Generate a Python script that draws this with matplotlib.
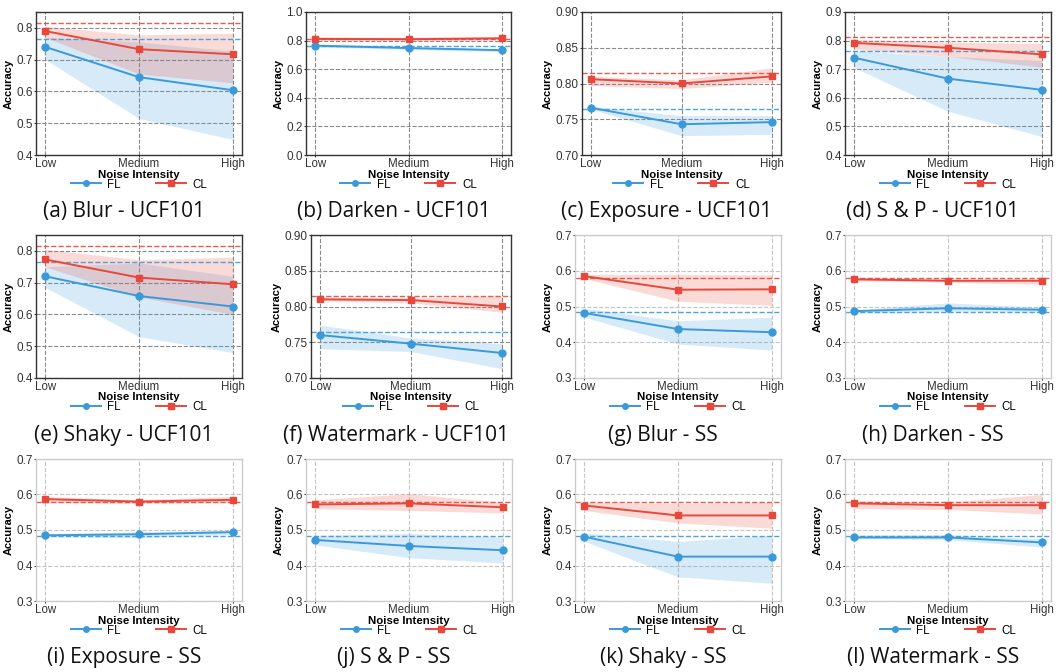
import matplotlib
matplotlib.use("Agg")
import matplotlib.pyplot as plt

levels = ["Low", "Medium", "High"]
x = [0, 1, 2]

captions = ["(a) Blur - UCF101", "(b) Darken - UCF101", "(c) Exposure - UCF101", "(d) S & P - UCF101",
            "(e) Shaky - UCF101", "(f) Watermark - UCF101", "(g) Blur - SS", "(h) Darken - SS",
            "(i) Exposure - SS", "(j) S & P - SS", "(k) Shaky - SS", "(l) Watermark - SS"]

# clean baselines (dashed lines)
base_ucf = {"FL": 0.764, "CL": 0.814}
base_ss = {"FL": 0.484, "CL": 0.580}

# mean accuracy per noise level
fl_mean = [
    [0.740, 0.645, 0.604], [0.765, 0.748, 0.733], [0.766, 0.743, 0.746], [0.740, 0.667, 0.628],
    [0.720, 0.658, 0.625], [0.760, 0.748, 0.735], [0.482, 0.437, 0.428], [0.487, 0.495, 0.491],
    [0.485, 0.488, 0.494], [0.472, 0.455, 0.443], [0.481, 0.425, 0.425], [0.479, 0.479, 0.465],
]
cl_mean = [
    [0.790, 0.733, 0.717], [0.812, 0.810, 0.816], [0.806, 0.800, 0.810], [0.792, 0.775, 0.752],
    [0.773, 0.716, 0.695], [0.810, 0.809, 0.800], [0.585, 0.547, 0.548], [0.576, 0.572, 0.572],
    [0.587, 0.580, 0.585], [0.572, 0.575, 0.564], [0.569, 0.541, 0.541], [0.575, 0.570, 0.570],
]
# shaded ranges (lower / upper)
fl_lo = [
    [0.700, 0.515, 0.449], [0.755, 0.738, 0.722], [0.764, 0.727, 0.729], [0.705, 0.553, 0.465],
    [0.685, 0.530, 0.480], [0.741, 0.737, 0.713], [0.470, 0.395, 0.378], [0.482, 0.487, 0.485],
    [0.482, 0.478, 0.488], [0.458, 0.422, 0.407], [0.468, 0.368, 0.350], [0.476, 0.473, 0.452],
]
fl_hi = [
    [0.770, 0.756, 0.727], [0.772, 0.758, 0.742], [0.768, 0.755, 0.755], [0.765, 0.745, 0.730],
    [0.750, 0.762, 0.720], [0.774, 0.756, 0.748], [0.495, 0.460, 0.470], [0.490, 0.510, 0.498],
    [0.489, 0.495, 0.499], [0.485, 0.490, 0.480], [0.492, 0.468, 0.485], [0.486, 0.487, 0.475],
]
cl_lo = [
    [0.770, 0.655, 0.627], [0.800, 0.798, 0.805], [0.797, 0.793, 0.802], [0.770, 0.745, 0.707],
    [0.750, 0.655, 0.600], [0.808, 0.805, 0.792], [0.578, 0.515, 0.503], [0.572, 0.568, 0.562],
    [0.578, 0.575, 0.578], [0.560, 0.555, 0.548], [0.555, 0.520, 0.505], [0.560, 0.558, 0.545],
]
cl_hi = [
    [0.805, 0.778, 0.783], [0.825, 0.822, 0.828], [0.810, 0.805, 0.822], [0.805, 0.795, 0.790],
    [0.805, 0.772, 0.780], [0.813, 0.812, 0.815], [0.590, 0.590, 0.588], [0.580, 0.576, 0.578],
    [0.594, 0.585, 0.595], [0.585, 0.602, 0.578], [0.578, 0.575, 0.578], [0.582, 0.578, 0.600],
]

ylims = [(0.4, 0.85), (0.0, 1.0), (0.70, 0.90), (0.4, 0.9),
         (0.4, 0.85), (0.70, 0.90), (0.3, 0.7), (0.3, 0.7),
         (0.3, 0.7), (0.3, 0.7), (0.3, 0.7), (0.3, 0.7)]
ysteps = [0.1, 0.2, 0.05, 0.1, 0.1, 0.05, 0.1, 0.1, 0.1, 0.1, 0.1, 0.1]

blue = "#3a9ad9"
red = "#e8483b"

W, H = 1064, 672
fig = plt.figure(figsize=(W / 100, H / 100), dpi=100)
plt.rcParams["font.family"] = ["Liberation Sans", "DejaVu Sans"]

# axes boxes in pixels: left, right, top, bottom
cols = [
    [(36, 242), (306, 511), (582, 781), (845, 1051)],
    [(36, 242), (311, 511), (575, 781), (845, 1051)],
    [(36, 242), (306, 512), (575, 781), (845, 1051)],
]
rows = [(12, 155), (235, 378), (459, 601)]

for i in range(12):
    r, c = divmod(i, 4)
    l, rt = cols[r][c]
    t, b = rows[r]
    hpx = b - t
    ax = fig.add_axes([l / W, 1 - b / H, (rt - l) / W, hpx / H])
    ucf = i < 6
    base = base_ucf if ucf else base_ss

    ax.fill_between(x, fl_lo[i], fl_hi[i], color=blue, alpha=0.2, lw=0)
    ax.fill_between(x, cl_lo[i], cl_hi[i], color=red, alpha=0.2, lw=0)
    ax.axhline(base["FL"], color=blue, ls="--", lw=1.0, alpha=0.9)
    ax.axhline(base["CL"], color=red, ls="--", lw=1.0, alpha=0.9)
    ax.plot(x, fl_mean[i], color=blue, marker="o", ms=5, lw=1.4, label="FL")
    ax.plot(x, cl_mean[i], color=red, marker="s", ms=5, lw=1.4, label="CL")

    lo, hi = ylims[i]
    ax.set_ylim(lo, hi)
    st = ysteps[i]
    n = int(round((hi - lo) / st))
    ticks = [lo + k * st for k in range(n + 1) if lo + k * st <= hi + 1e-9]
    if i in (0, 4):
        ticks = [0.4, 0.5, 0.6, 0.7, 0.8]
    ax.set_yticks(ticks)
    fmt = "%.2f" if st == 0.05 else "%.1f"
    ax.set_yticklabels([fmt % v for v in ticks])
    ax.set_xlim(-0.1, 2.1)
    ax.set_xticks(x)
    ax.set_xticklabels(levels)

    gcol = "#8a8a8a" if ucf else "#c4c4c4"
    ax.grid(True, ls="--", color=gcol, lw=0.8)
    ax.set_axisbelow(True)
    for s in ax.spines.values():
        s.set_color("#333333" if ucf else "#cccccc")
        s.set_linewidth(1.0)
    ax.tick_params(labelsize=8.5, length=1.5, pad=1, colors="#333333")
    ax.tick_params(axis="x", labelsize=8.3, pad=0.5)
    ax.set_ylabel("Accuracy", fontsize=8, fontweight="bold", labelpad=2)
    ax.set_xlabel("Noise Intensity", fontsize=8.2, fontweight="bold", va="center")
    ax.xaxis.set_label_coords(0.5, -19.5 / hpx)
    ax.legend(loc="center", bbox_to_anchor=(0.5, -29.5 / hpx), ncol=2, frameon=False,
              fontsize=8.3, handlelength=2.6, columnspacing=3.0, handletextpad=0.6,
              borderaxespad=0, borderpad=0, markerscale=0.8)

    cx = ((l + rt) / 2 - 15) / W
    cy = 1 - (b + 57) / H
    fig.text(cx, cy, captions[i], ha="center", va="center", fontsize=15,
             family=["Open Sans", "DejaVu Sans"], color="#111111")

fig.savefig("out.png", dpi=100)
